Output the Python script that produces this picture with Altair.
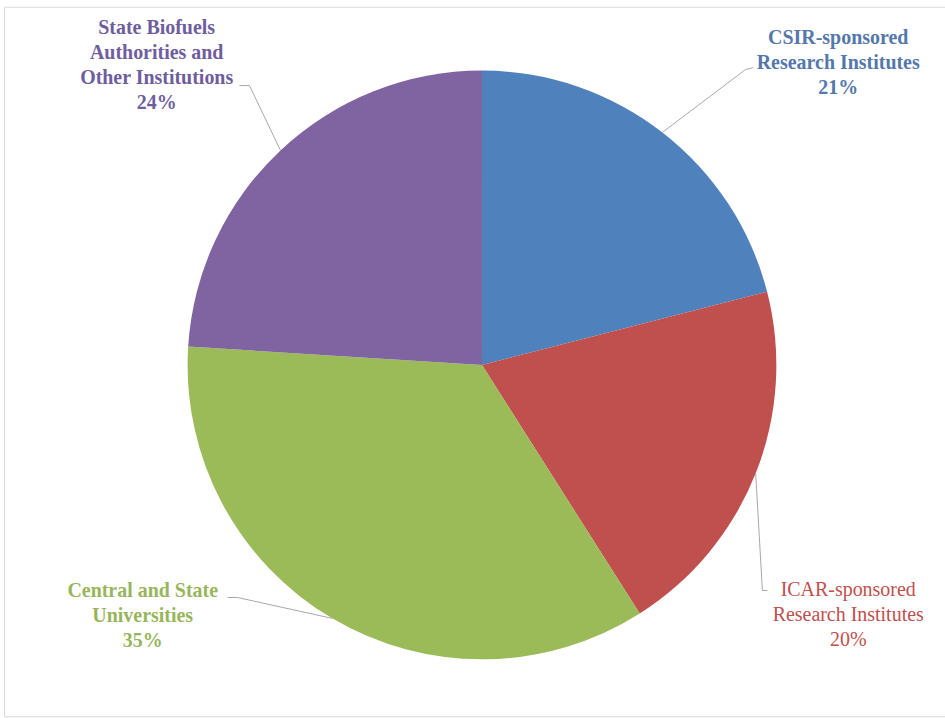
import altair as alt
import pandas as pd

# ---- data ----
categories = ["CSIR-sponsored Research Institutes", "ICAR-sponsored Research Institutes",
              "Central and State Universities", "State Biofuels Authorities and Other Institutions"]
shares = [21, 20, 35, 24]
label_text = ["CSIR-sponsored\nResearch Institutes\n21%",
              "ICAR-sponsored\nResearch Institutes\n20%",
              "Central and State\nUniversities\n35%",
              "State Biofuels\nAuthorities and\nOther Institutions\n24%"]

# ---- style / layout ----
slice_colors = ["#4F81BD", "#C0504D", "#9BBB59", "#8064A2"]
label_colors = ["#5478AC", "#C0504D", "#98B55C", "#6E5E9E"]
label_bold = [True, False, True, True]
label_x = [840, 850, 143, 157]
label_y = [27, 581, 582, 17]
elbow_x = [747, 764, 238, 250]
elbow_y = [69, 591, 598, 85]
end_x = [755, 769, 228, 240]
end_y = [67, 591, 598, 85]
CX, CY, R = 483, 365, 295

df = pd.DataFrame({
    "cat": categories, "value": shares, "idx": list(range(len(categories))),
    "label": label_text, "bold": label_bold,
    "lx": label_x, "ly": label_y, "bx": elbow_x, "by": elbow_y, "tx": end_x, "ty": end_y,
})

xs = alt.Scale(domain=[4, 947], nice=False, zero=False)
ys = alt.Scale(domain=[6, 717], nice=False, zero=False, reverse=True)
base = alt.Chart(df)

pie = base.mark_arc(outerRadius=R).encode(
    theta=alt.Theta("value:Q", stack=True),
    order=alt.Order("idx:Q"),
    color=alt.Color("cat:N", scale=alt.Scale(domain=categories, range=slice_colors), legend=None),
    x=alt.datum(CX, scale=xs, axis=None),
    y=alt.datum(CY, scale=ys, axis=None),
)

geo = base.transform_joinaggregate(total="sum(value)").transform_window(
    cum="sum(value)", sort=[alt.SortField("idx")], frame=[None, 0]
).transform_calculate(
    mid="(datum.cum - datum.value/2) / datum.total * 2 * PI",
).transform_calculate(
    ex=f"{CX} + {R} * sin(datum.mid)",
    ey=f"{CY} - {R} * cos(datum.mid)",
)

lead1 = geo.mark_rule(color="#a8a8a8", strokeWidth=1).encode(
    x=alt.X("ex:Q", scale=xs, axis=None), y=alt.Y("ey:Q", scale=ys, axis=None),
    x2="bx:Q", y2="by:Q",
)
lead2 = base.mark_rule(color="#a8a8a8", strokeWidth=1).encode(
    x=alt.X("bx:Q", scale=xs, axis=None), y=alt.Y("by:Q", scale=ys, axis=None),
    x2="tx:Q", y2="ty:Q",
)

def labels(bold):
    return base.transform_filter(f"datum.bold == {str(bold).lower()}").mark_text(
        font="Liberation Serif", fontSize=20, fontWeight="bold" if bold else "normal",
        lineBreak="\n", lineHeight=25, align="center", baseline="top",
    ).encode(
        x=alt.X("lx:Q", scale=xs, axis=None), y=alt.Y("ly:Q", scale=ys, axis=None),
        text="label:N",
        color=alt.Color("cat:N", scale=alt.Scale(domain=categories, range=label_colors), legend=None),
    )

chart = alt.layer(pie, lead1, lead2, labels(True), labels(False)).resolve_scale(
    color="independent"
).properties(
    width=943, height=711, padding={"left": 4, "top": 6, "right": 0, "bottom": 1},
    autosize=alt.AutoSizeParams(type="none"), background="white",
).configure_view(stroke="#dadada", strokeWidth=1)

chart.save("out.html", embed_options={"renderer": "svg", "actions": False})
